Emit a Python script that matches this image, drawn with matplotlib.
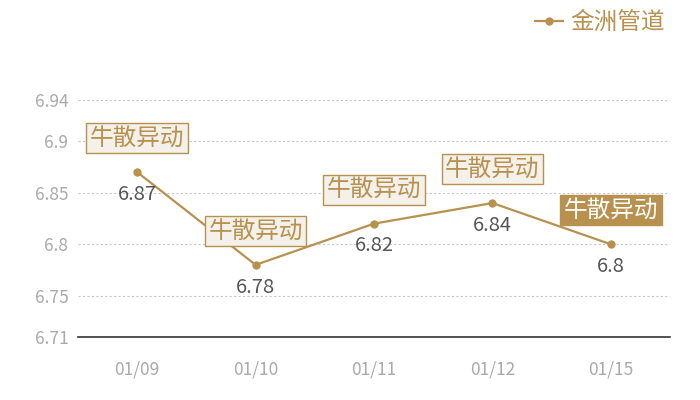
import matplotlib
matplotlib.use("Agg")
import matplotlib.pyplot as plt

plt.rcParams['font.family'] = ['Noto Sans CJK SC', 'DejaVu Sans']

dates = ['01/09', '01/10', '01/11', '01/12', '01/15']
prices = [6.87, 6.78, 6.82, 6.84, 6.8]
y_ticks = [6.71, 6.75, 6.8, 6.85, 6.9, 6.94]
y_labels = ['6.71', '6.75', '6.8', '6.85', '6.9', '6.94']
series_name = '金洲管道'
tag_text = '牛散异动'
highlight = [False, False, False, False, True]

gold = '#b8914f'
light_bg = '#f4f0ea'

fig = plt.figure(figsize=(7, 4), dpi=100)
ax = fig.add_axes([78 / 700, 1 - 337 / 400, (670 - 78) / 700, (337 - 100) / 400])

x = list(range(len(dates)))
ax.plot(x, prices, color=gold, linewidth=1.6, marker='o', markersize=6,
        markeredgewidth=0, label=series_name, zorder=3)

ax.set_xlim(-0.5, len(dates) - 0.5)
ax.set_ylim(6.71, 6.94)
ax.set_yticks(y_ticks)
ax.set_yticklabels(y_labels)
ax.set_xticks(x)
ax.set_xticklabels(dates)

for t in y_ticks[1:]:
    ax.axhline(t, color='#c8c8c8', linewidth=0.8, linestyle=(0, (2, 2)), zorder=1)

for s in ['left', 'right', 'top']:
    ax.spines[s].set_visible(False)
ax.spines['bottom'].set_color('#333333')
ax.spines['bottom'].set_linewidth(1.2)
ax.tick_params(axis='both', length=0, colors='#aaaaaa', labelsize=12.5)
ax.tick_params(axis='x', pad=17)
ax.tick_params(axis='y', pad=7)

for i, (v, hl) in enumerate(zip(prices, highlight)):
    ax.annotate(f'{v:g}', (i, v), xytext=(0, -16), textcoords='offset points',
                ha='center', va='center', fontsize=14.5, color='#555555')
    if hl:
        box = dict(boxstyle='square,pad=0.15', facecolor=gold, edgecolor=gold, linewidth=1)
        tc = 'white'
    else:
        box = dict(boxstyle='square,pad=0.15', facecolor=light_bg, edgecolor=gold, linewidth=1)
        tc = gold
    ax.annotate(tag_text, (i, v), xytext=(0, 24.5), textcoords='offset points',
                ha='center', va='center', fontsize=17, color=tc, bbox=box, zorder=4)

leg = fig.legend(loc='upper right', bbox_to_anchor=(0.98, 1.025), frameon=False,
                 fontsize=17, handlelength=1.2, handletextpad=0.3)
for t in leg.get_texts():
    t.set_color(gold)

fig.savefig('out.png', dpi=100)
